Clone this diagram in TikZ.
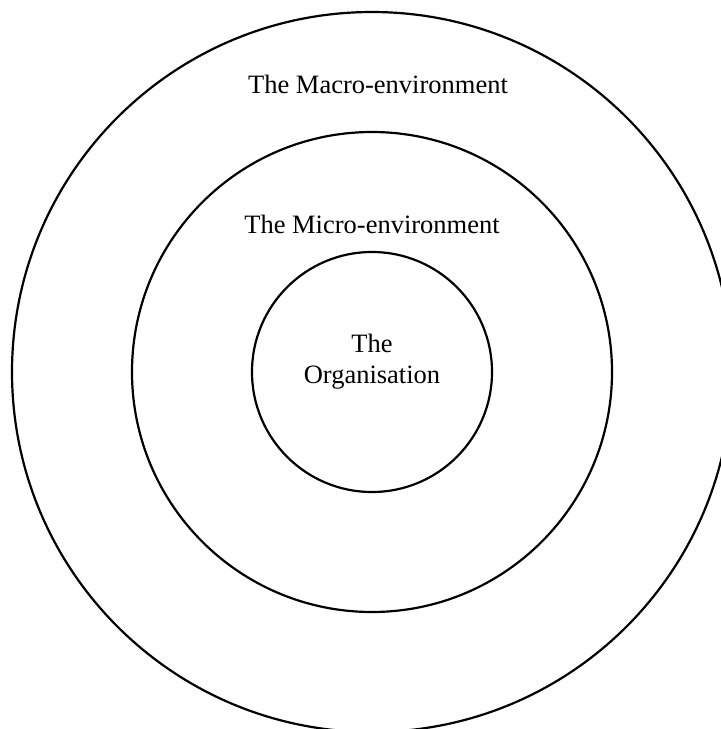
\documentclass[tikz,border=0pt]{standalone}
\usepackage{fontspec}
\setmainfont{Liberation Serif}
\usetikzlibrary{positioning}

\begin{document}
\begin{tikzpicture}[
    x=0.5pt, y=-0.5pt,
    ring/.style={circle, draw=black, line width=1.1pt, inner sep=0pt},
    label/.style={font=\fontsize{13.25pt}{15.5pt}\selectfont, inner sep=0pt, align=center}
]
\useasboundingbox (0,0) rectangle (721,729);
\clip (0,0) rectangle (721,729);

\node [ring, minimum size=360pt] (macro) at (372,372) {};
\node [ring, minimum size=240pt] (micro) at (372,372) {};
\node [ring, minimum size=120pt] (org) at (372,372) {};

\node [label, anchor=base] (macrotext) at (378,93) {The Macro-environment};
\node [label, anchor=base] (microtext) at (372,233) {The Micro-environment};
\node [label] (orgtext) at (372,361.5) {The\\Organisation};

\end{tikzpicture}
\end{document}
